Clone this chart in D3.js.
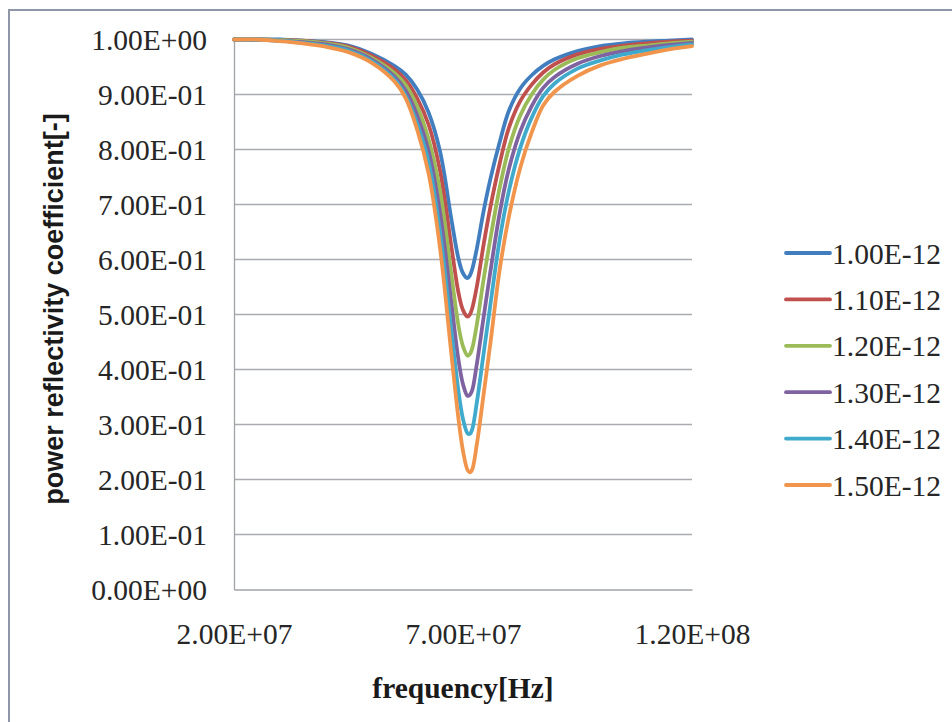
<!DOCTYPE html>
<html>
<head>
<meta charset="utf-8">
<script src="https://cdn.jsdelivr.net/npm/d3@7"></script>
<style>
  html, body { margin: 0; padding: 0; background: #ffffff; }
  svg { display: block; }
</style>
</head>
<body>
<svg id="chart" width="952" height="722"></svg>
<script>
// Frequency sweep [Hz]
const frequency = [2.0e7, 2.5e7, 3.0e7, 3.5e7, 4.0e7, 4.5e7, 5.0e7, 5.5e7, 5.75e7, 6.0e7, 6.25e7,
  6.5e7, 6.75e7, 6.9e7, 7.0e7, 7.1e7, 7.15e7, 7.2e7, 7.3e7, 7.45e7, 7.6e7,
  7.8e7, 8.0e7, 8.25e7, 8.5e7, 8.75e7, 9.0e7, 9.5e7, 1.0e8, 1.05e8, 1.1e8, 1.15e8, 1.2e8];

// Power reflectivity coefficient for each parameter value
const r100 = [1.000, 1.000, 1.000, 0.998, 0.995, 0.989, 0.974, 0.952, 0.936, 0.909, 0.867,
  0.796, 0.671, 0.602, 0.575, 0.566, 0.571, 0.582, 0.619, 0.688, 0.747,
  0.813, 0.870, 0.911, 0.935, 0.952, 0.964, 0.979, 0.988, 0.993, 0.996, 0.998, 1.000];
const r110 = [1.000, 1.000, 0.999, 0.998, 0.994, 0.987, 0.971, 0.946, 0.926, 0.893, 0.845,
  0.761, 0.621, 0.540, 0.508, 0.496, 0.500, 0.511, 0.550, 0.627, 0.696,
  0.774, 0.839, 0.888, 0.918, 0.940, 0.955, 0.973, 0.983, 0.989, 0.993, 0.996, 0.998];
const r120 = [1.000, 1.000, 0.999, 0.997, 0.993, 0.985, 0.967, 0.939, 0.917, 0.878, 0.818,
  0.724, 0.570, 0.480, 0.442, 0.425, 0.428, 0.438, 0.481, 0.564, 0.639,
  0.730, 0.802, 0.862, 0.900, 0.927, 0.945, 0.966, 0.977, 0.985, 0.989, 0.993, 0.996];
const r130 = [1.000, 1.000, 0.998, 0.995, 0.991, 0.982, 0.964, 0.933, 0.907, 0.862, 0.797,
  0.685, 0.518, 0.418, 0.373, 0.352, 0.354, 0.362, 0.409, 0.495, 0.579,
  0.684, 0.764, 0.833, 0.879, 0.912, 0.932, 0.956, 0.970, 0.979, 0.985, 0.990, 0.994];
const r140 = [1.000, 1.000, 0.998, 0.994, 0.989, 0.980, 0.961, 0.928, 0.898, 0.847, 0.777,
  0.649, 0.468, 0.361, 0.310, 0.284, 0.283, 0.291, 0.339, 0.429, 0.519,
  0.636, 0.724, 0.803, 0.858, 0.897, 0.920, 0.947, 0.962, 0.973, 0.980, 0.986, 0.991];
const r150 = [1.000, 1.000, 0.997, 0.993, 0.987, 0.977, 0.958, 0.924, 0.893, 0.836, 0.756,
  0.620, 0.425, 0.311, 0.252, 0.217, 0.213, 0.218, 0.263, 0.355, 0.449,
  0.581, 0.677, 0.767, 0.831, 0.880, 0.905, 0.934, 0.953, 0.965, 0.974, 0.982, 0.988];

const seriesNames = ["1.00E-12", "1.10E-12", "1.20E-12", "1.30E-12", "1.40E-12", "1.50E-12"];
const seriesValues = [r100, r110, r120, r130, r140, r150];
const seriesColors = ["#417EC0", "#C0504D", "#9BBB59", "#7F63A1", "#3FAACB", "#F0954B"];

const yTicks = [0, 0.1, 0.2, 0.3, 0.4, 0.5, 0.6, 0.7, 0.8, 0.9, 1.0];
const yTickLabels = ["0.00E+00", "1.00E-01", "2.00E-01", "3.00E-01", "4.00E-01", "5.00E-01",
  "6.00E-01", "7.00E-01", "8.00E-01", "9.00E-01", "1.00E+00"];
const xTicks = [2.0e7, 7.0e7, 1.2e8];
const xTickLabels = ["2.00E+07", "7.00E+07", "1.20E+08"];

const svg = d3.select("#chart");
const serif = "'Liberation Serif', 'Times New Roman', serif";
const labelSize = 29.5;
const textColor = "#262626";

// Outer chart frame
svg.append("rect")
  .attr("x", 9).attr("y", 10)
  .attr("width", 980).attr("height", 760)
  .attr("fill", "none")
  .attr("stroke", "#8E96A8")
  .attr("stroke-width", 2);

const plot = { left: 234, right: 692, top: 39.5, bottom: 589.5 };

const x = d3.scaleLinear().domain([2.0e7, 1.2e8]).range([plot.left, plot.right]);
const y = d3.scaleLinear().domain([0, 1]).range([plot.bottom, plot.top]);

// Horizontal gridlines
svg.append("g")
  .selectAll("line")
  .data(yTicks.filter(d => d > 0))
  .join("line")
  .attr("x1", plot.left).attr("x2", plot.right)
  .attr("y1", d => y(d)).attr("y2", d => y(d))
  .attr("stroke", "#A9ABAE")
  .attr("stroke-width", 1.3);

// Y axis
const yAxis = svg.append("g")
  .attr("transform", `translate(${plot.left},0)`)
  .call(d3.axisLeft(y).tickValues(yTicks).tickSize(0).tickPadding(27)
    .tickFormat((d, i) => yTickLabels[i]));
yAxis.select(".domain").attr("stroke", "#A0A3A8").attr("stroke-width", 1.3);
yAxis.selectAll("text")
  .attr("font-family", serif)
  .attr("font-size", labelSize)
  .attr("fill", textColor)
  .attr("dy", "0.34em");

// X axis
const xAxis = svg.append("g")
  .attr("transform", `translate(0,${plot.bottom})`)
  .call(d3.axisBottom(x).tickValues(xTicks).tickSize(0).tickPadding(34)
    .tickFormat((d, i) => xTickLabels[i]));
xAxis.select(".domain").attr("stroke", "#A0A3A8").attr("stroke-width", 1.3);
xAxis.selectAll("text")
  .attr("font-family", serif)
  .attr("font-size", labelSize)
  .attr("fill", textColor)
  .attr("dy", "0.71em");

// Curves
const line = d3.line()
  .x((d, i) => x(frequency[i]))
  .y(d => y(d))
  .curve(d3.curveCatmullRom.alpha(0.5));

svg.append("g")
  .selectAll("path")
  .data(seriesValues)
  .join("path")
  .attr("d", d => line(d))
  .attr("fill", "none")
  .attr("stroke", (d, i) => seriesColors[i])
  .attr("stroke-width", 3.8)
  .attr("stroke-linejoin", "round")
  .attr("stroke-linecap", "round");

// Legend
const legend = svg.append("g").attr("transform", "translate(786,253)");
const rows = legend.selectAll("g")
  .data(seriesNames)
  .join("g")
  .attr("transform", (d, i) => `translate(0,${i * 46.4})`);
rows.append("line")
  .attr("x1", 0).attr("x2", 44)
  .attr("y1", 0).attr("y2", 0)
  .attr("stroke", (d, i) => seriesColors[i])
  .attr("stroke-width", 3.8)
  .attr("stroke-linecap", "round");
rows.append("text")
  .attr("x", 46).attr("y", 0)
  .attr("dy", "0.36em")
  .attr("font-family", serif)
  .attr("font-size", labelSize)
  .attr("fill", textColor)
  .text(d => d);

// Axis titles
svg.append("text")
  .attr("x", (plot.left + plot.right) / 2)
  .attr("y", 698)
  .attr("text-anchor", "middle")
  .attr("font-family", serif)
  .attr("font-weight", "bold")
  .attr("font-size", 29.5)
  .attr("fill", "#1a1a1a")
  .text("frequency[Hz]");

svg.append("text")
  .attr("transform", "translate(63,309) rotate(-90)")
  .attr("text-anchor", "middle")
  .attr("font-family", "'Liberation Sans', Arial, sans-serif")
  .attr("font-weight", "bold")
  .attr("font-size", 27)
  .attr("fill", "#1a1a1a")
  .text("power reflectivity coefficient[-]");
</script>
</body>
</html>
